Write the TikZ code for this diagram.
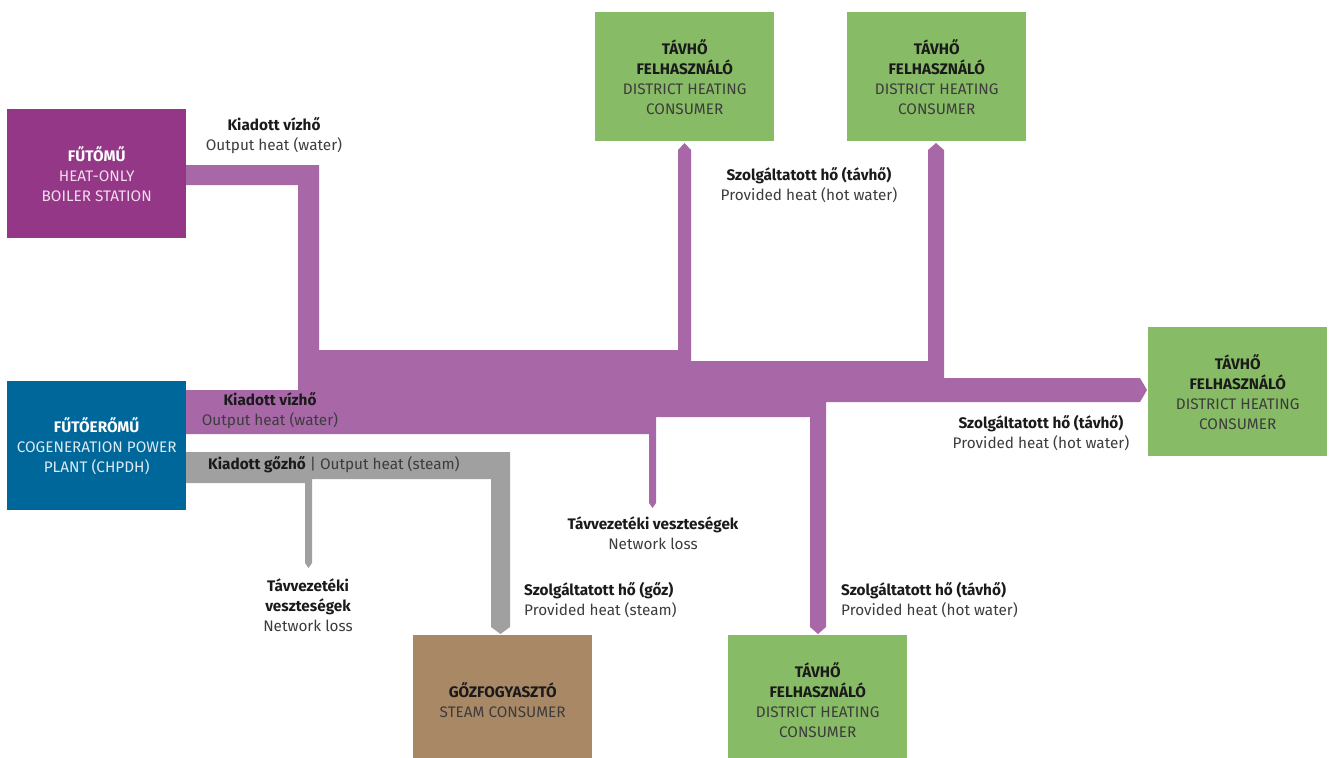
\documentclass[tikz,border=0pt]{standalone}
\usepackage{fontspec}
\setmainfont{Fira Sans}
\definecolor{flowc}{HTML}{A868A8}
\definecolor{steamc}{HTML}{A0A0A0}
\definecolor{boilerc}{HTML}{943787}
\definecolor{chpc}{HTML}{00679A}
\definecolor{greenc}{HTML}{88BB66}
\definecolor{brownc}{HTML}{A98866}
\definecolor{txtb}{HTML}{1A1A1A}
\definecolor{txtg}{HTML}{3C3C3C}
\definecolor{lightp}{HTML}{F2DDEE}
\definecolor{lightb}{HTML}{DCEBF3}
\newcommand\fsz{\fontsize{15.3}{20}\selectfont}
\newcommand\lb[2]{{\color{txtb}\bfseries #1}\\{\color{txtg}#2}}
\begin{document}
\begin{tikzpicture}[x=1pt,y=-1pt,
  boxnode/.style={minimum width=179pt, minimum height=129pt, inner sep=0pt, align=center, font=\fsz, anchor=north west},
  lbl/.style={align=center, inner sep=0pt, font=\fsz},
  lbll/.style={align=left, inner sep=0pt, font=\fsz, anchor=west}]
\useasboundingbox (0,0) rectangle (1329,757);
% hot water flow
\fill[flowc] (186,165) -- (319,165) -- (319,350) -- (678,350) -- (678,150) -- (684.5,143) -- (691,150)
  -- (691,361) -- (928,361) -- (928,150) -- (936,143) -- (944,150) -- (944,378) -- (1140,378)
  -- (1147,390) -- (1140,402) -- (826,402) -- (826,627) -- (818,634) -- (810,627) -- (810,417)
  -- (656,417) -- (656,503) -- (652.5,508) -- (649,503) -- (649,434) -- (186,434) -- (186,390)
  -- (298,390) -- (298,185) -- (186,185) -- cycle;
% steam flow
\fill[steamc] (186,452) -- (510,452) -- (510,627) -- (500.5,634) -- (491,627) -- (491,479)
  -- (312,479) -- (312,563) -- (308.5,568) -- (305,563) -- (305,483) -- (186,483) -- cycle;
% boxes
\node[boxnode, fill=boilerc] (boiler) at (7,109) {{\color{white}\bfseries FŰTŐMŰ}\\{\color{lightp}HEAT-ONLY}\\{\color{lightp}BOILER STATION}};
\node[boxnode, fill=chpc] (chp) at (7,381) {{\color{white}\bfseries FŰTŐERŐMŰ}\\{\color{lightb}COGENERATION POWER}\\{\color{lightb}PLANT (CHPDH)}};
\node[boxnode, fill=greenc] (dh1) at (595,12) {{\color{txtb}\bfseries TÁVHŐ}\\{\color{txtb}\bfseries FELHASZNÁLÓ}\\{\color{txtg}DISTRICT HEATING}\\{\color{txtg}CONSUMER}};
\node[boxnode, fill=greenc] (dh2) at (847,12) {{\color{txtb}\bfseries TÁVHŐ}\\{\color{txtb}\bfseries FELHASZNÁLÓ}\\{\color{txtg}DISTRICT HEATING}\\{\color{txtg}CONSUMER}};
\node[boxnode, fill=greenc] (dh3) at (1148,327) {{\color{txtb}\bfseries TÁVHŐ}\\{\color{txtb}\bfseries FELHASZNÁLÓ}\\{\color{txtg}DISTRICT HEATING}\\{\color{txtg}CONSUMER}};
\node[boxnode, fill=greenc] (dh4) at (728,635) {{\color{txtb}\bfseries TÁVHŐ}\\{\color{txtb}\bfseries FELHASZNÁLÓ}\\{\color{txtg}DISTRICT HEATING}\\{\color{txtg}CONSUMER}};
\node[boxnode, fill=brownc] (steam) at (413,635) {{\color{txtb}\bfseries GŐZFOGYASZTÓ}\\{\color{txtg}STEAM CONSUMER}};
% labels
\node[lbl] (l1) at (274,136) {\lb{Kiadott vízhő}{Output heat (water)}};
\node[lbl] (l2) at (270,411) {\lb{Kiadott vízhő}{Output heat (water)}};
\node[lbll] (l3) at (208,465) {{\color{txtb}\bfseries Kiadott gőzhő} {\color{txtg}| Output heat (steam)}};
\node[lbl] (l4) at (809,185) {\lb{Szolgáltatott hő (távhő)}{Provided heat (hot water)}};
\node[lbl] (l5) at (1041,433) {\lb{Szolgáltatott hő (távhő)}{Provided heat (hot water)}};
\node[lbl] (l6) at (653,533) {\lb{Távvezetéki veszteségek}{Network loss}};
\node[lbl] (l7) at (308,605) {{\color{txtb}\bfseries Távvezetéki}\\{\color{txtb}\bfseries veszteségek}\\{\color{txtg}Network loss}};
\node[lbll] (l8) at (524,600) {\lb{Szolgáltatott hő (gőz)}{Provided heat (steam)}};
\node[lbll] (l9) at (841,600) {\lb{Szolgáltatott hő (távhő)}{Provided heat (hot water)}};
\end{tikzpicture}
\end{document}
